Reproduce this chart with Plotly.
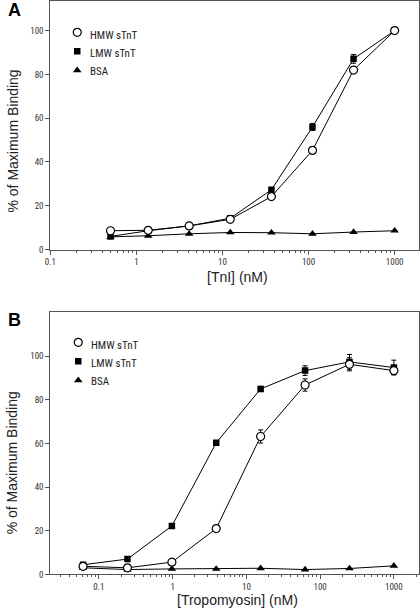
import plotly.graph_objects as go

# Panel A: [TnI] (nM)
tni_x = [0.5, 1.37, 4.1, 12.3, 37, 111, 333, 1000]
a_hmw = [8.6, 8.8, 10.8, 13.8, 24.2, 45.3, 82.0, 100.0]
a_hmw_err = [0.6, 0.6, 0.8, 1.0, 1.2, 1.0, 1.5, 0.5]
a_lmw = [6.0, 8.6, 10.8, 14.3, 27.3, 56.0, 87.1, 100.0]
a_lmw_err = [0.5, 0.5, 0.6, 0.8, 1.0, 1.6, 2.0, 0.5]
a_bsa = [5.8, 6.3, 7.2, 7.8, 7.7, 7.2, 8.0, 8.6]

# Panel B: [Tropomyosin] (nM)
tm_x = [0.061, 0.244, 0.977, 3.9, 15.6, 62.5, 250, 1000]
b_hmw = [3.7, 3.0, 5.6, 21.0, 63.2, 86.8, 96.3, 93.4]
b_hmw_err = [0.6, 0.5, 0.6, 1.0, 3.0, 2.8, 3.0, 1.8]
b_lmw = [4.4, 7.0, 22.2, 60.3, 85.0, 93.4, 97.4, 94.8]
b_lmw_err = [0.5, 0.5, 0.6, 0.8, 1.2, 2.2, 3.4, 3.4]
b_bsa = [3.0, 2.2, 2.5, 2.5, 2.8, 2.2, 2.7, 3.9]

x_tickvals = [0.1, 1, 10, 100, 1000]
x_ticktext = ["0.1", "1", "10", "100", "1000"]
y_tickvals = [0, 20, 40, 60, 80, 100]
minor_vals = [m * 10 ** e for e in range(-2, 4) for m in range(2, 10)]

series_names = ["HMW sTnT", "LMW sTnT", "BSA"]

W, H = 420, 616
fig = go.Figure()

line_style = dict(color="black", width=1)
err_style = dict(type="data", visible=True, color="black", thickness=1, width=2.5)
sym = {
    "HMW sTnT": dict(symbol="circle", size=8, color="white", line=dict(width=1.2, color="black")),
    "LMW sTnT": dict(symbol="square", size=6.5, color="black"),
    "BSA": dict(symbol="triangle-up", size=7.5, color="black"),
}

def add_panel(xs, hmw, hmw_err, lmw, lmw_err, bsa, xa, ya, leg):
    fig.add_trace(go.Scatter(x=xs, y=bsa, mode="lines+markers", line=line_style,
                             marker=sym["BSA"], showlegend=False, xaxis=xa, yaxis=ya))
    fig.add_trace(go.Scatter(x=xs, y=lmw, mode="lines+markers", line=line_style,
                             error_y=dict(array=lmw_err, **err_style),
                             marker=sym["LMW sTnT"], showlegend=False, xaxis=xa, yaxis=ya))
    fig.add_trace(go.Scatter(x=xs, y=hmw, mode="lines+markers", line=line_style,
                             error_y=dict(array=hmw_err, **err_style),
                             marker=sym["HMW sTnT"], showlegend=False, xaxis=xa, yaxis=ya))
    for i, nm in enumerate(series_names):
        fig.add_trace(go.Scatter(x=[None], y=[None], mode="markers", marker=sym[nm],
                                 name=" " * (i + 1), legend=leg, xaxis=xa, yaxis=ya))

add_panel(tni_x, a_hmw, a_hmw_err, a_lmw, a_lmw_err, a_bsa, "x", "y", "legend")
add_panel(tm_x, b_hmw, b_hmw_err, b_lmw, b_lmw_err, b_bsa, "x2", "y2", "legend2")

narrow = "Liberation Sans Narrow, Arial Narrow, Roboto Condensed, Liberation Sans"
tick_font = dict(family=narrow, size=9, color="#333")
axis_common = dict(showline=True, linecolor="#555", linewidth=1, mirror=True,
                   ticks="outside", ticklen=4, tickcolor="#555", showgrid=False,
                   zeroline=False, tickfont=tick_font)

def px_x(v):
    return v / W

def px_y(v):
    return 1 - v / H

rng_a = [-1, 3.283]
rng_b = [-1.658, 3.341]
dom_x = [px_x(45), px_x(419)]

leg_font = dict(family=narrow, size=11, color="#222")
fig.update_layout(
    width=W, height=H,
    margin=dict(l=0, r=0, t=0, b=0),
    plot_bgcolor="white", paper_bgcolor="white",
    xaxis=dict(type="log", range=rng_a, domain=dom_x,
               tickvals=x_tickvals, ticktext=x_ticktext, anchor="y", **axis_common),
    yaxis=dict(range=[0, 113.3], domain=[px_y(251), px_y(0.5)], tickvals=y_tickvals,
               anchor="x", **axis_common),
    xaxis2=dict(type="log", range=rng_b, domain=dom_x,
                tickvals=x_tickvals, ticktext=x_ticktext, anchor="y2", **axis_common),
    yaxis2=dict(range=[0, 120.3], domain=[px_y(579), px_y(314)], tickvals=y_tickvals,
                anchor="x2", **axis_common),
    # minor log ticks
    xaxis3=dict(type="log", range=rng_a, domain=dom_x, overlaying="x", anchor="y",
                side="bottom", tickvals=minor_vals, ticks="outside", ticklen=2,
                tickcolor="#555", showticklabels=False, showgrid=False, showline=False,
                zeroline=False),
    xaxis4=dict(type="log", range=rng_b, domain=dom_x, overlaying="x2", anchor="y2",
                side="bottom", tickvals=minor_vals, ticks="outside", ticklen=2,
                tickcolor="#555", showticklabels=False, showgrid=False, showline=False,
                zeroline=False),
    legend=dict(x=px_x(52), y=px_y(17), xanchor="left", yanchor="top",
                bgcolor="rgba(0,0,0,0)", font=dict(size=10), itemwidth=30, tracegroupgap=0),
    legend2=dict(x=px_x(53), y=px_y(330), xanchor="left", yanchor="top",
                 bgcolor="rgba(0,0,0,0)", font=dict(size=10), itemwidth=30, tracegroupgap=0),
    showlegend=True,
)
# invisible traces to activate the minor-tick axes
fig.add_trace(go.Scatter(x=[None], y=[None], xaxis="x3", yaxis="y", showlegend=False,
                         hoverinfo="skip"))
fig.add_trace(go.Scatter(x=[None], y=[None], xaxis="x4", yaxis="y2", showlegend=False,
                         hoverinfo="skip"))

title_font = dict(family="Liberation Sans, Arial", size=14, color="#222")
annotations = [
    dict(text="<b>A</b>", x=px_x(0), y=px_y(-3), xanchor="left", yanchor="top",
         font=dict(family="Liberation Sans, Arial", size=18, color="black")),
    dict(text="<b>B</b>", x=px_x(0), y=px_y(310), xanchor="left", yanchor="top",
         font=dict(family="Liberation Sans, Arial", size=18, color="black")),
    dict(text="% of Maximum Binding", x=px_x(7), y=px_y(141), textangle=-90,
         xanchor="center", yanchor="middle", font=title_font),
    dict(text="% of Maximum Binding", x=px_x(7), y=px_y(466), textangle=-90,
         xanchor="center", yanchor="middle", font=title_font),
    dict(text="[TnI] (nM)", x=px_x(235), y=px_y(279), xanchor="center", yanchor="middle",
         font=dict(family="Liberation Sans, Arial", size=14, color="#222")),
    dict(text="[Tropomyosin] (nM)", x=px_x(235), y=px_y(605), xanchor="center", yanchor="middle",
         font=dict(family="Liberation Sans, Arial", size=14, color="#222")),
]
leg_rows_a = [35, 53, 71]
leg_rows_b = [348, 366, 384]
for nm, ya, yb in zip(series_names, leg_rows_a, leg_rows_b):
    annotations.append(dict(text=nm, x=px_x(83), y=px_y(ya), xanchor="left", yanchor="middle",
                            font=leg_font))
    annotations.append(dict(text=nm, x=px_x(84), y=px_y(yb), xanchor="left", yanchor="middle",
                            font=leg_font))
for a in annotations:
    a.update(xref="paper", yref="paper", showarrow=False)
fig.update_layout(annotations=annotations)

fig.write_html("out.html", config={"displayModeBar": False},
               post_script="document.body.style.margin='0';document.body.style.overflow='hidden';")
